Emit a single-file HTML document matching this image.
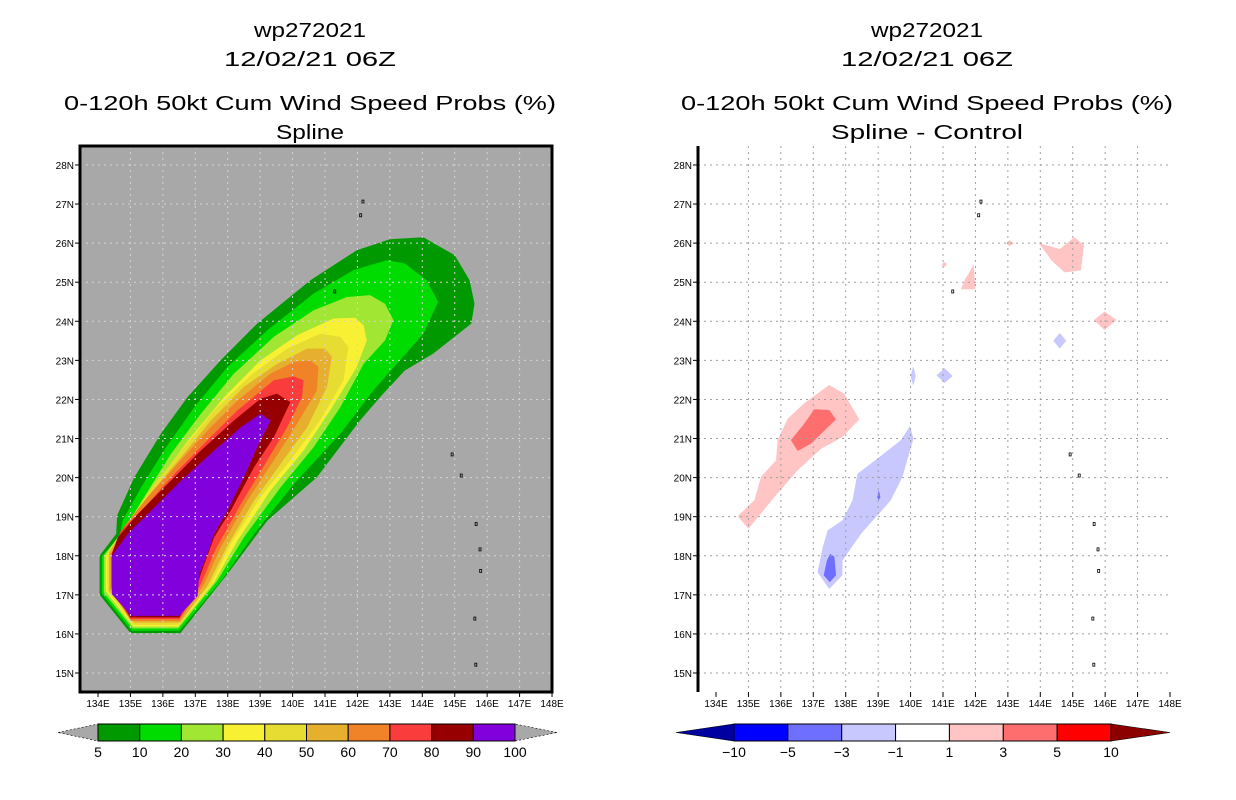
<!DOCTYPE html>
<html><head><meta charset="utf-8"><style>
html,body{margin:0;padding:0;background:#fff;}
svg{display:block;font-family:"Liberation Sans",sans-serif;}
</style></head><body>
<svg id="c" width="1236" height="800" viewBox="0 0 1236 800">
<g id="titles" fill="#000" font-size="20" text-anchor="middle">
<text x="310" y="37" textLength="112" lengthAdjust="spacingAndGlyphs">wp272021</text>
<text x="310" y="66" textLength="172" lengthAdjust="spacingAndGlyphs">12/02/21 06Z</text>
<text x="310" y="110" textLength="492" lengthAdjust="spacingAndGlyphs">0-120h 50kt Cum Wind Speed Probs (%)</text>
<text x="310" y="139" textLength="68" lengthAdjust="spacingAndGlyphs">Spline</text>
<text x="927" y="37" textLength="112" lengthAdjust="spacingAndGlyphs">wp272021</text>
<text x="927" y="66" textLength="172" lengthAdjust="spacingAndGlyphs">12/02/21 06Z</text>
<text x="927" y="110" textLength="492" lengthAdjust="spacingAndGlyphs">0-120h 50kt Cum Wind Speed Probs (%)</text>
<text x="927" y="139" textLength="192" lengthAdjust="spacingAndGlyphs">Spline - Control</text>
</g>
<g id="left"></g>
<g id="right"></g>
</svg>
<script>
const lonTicks=[134,135,136,137,138,139,140,141,142,143,144,145,146,147,148];
const latTicks=[15,16,17,18,19,20,21,22,23,24,25,26,27,28];
const probLevels=[5,10,20,30,40,50,60,70,80,90,100];
const probColors=["#009a00","#00dc00","#a0e632","#f8f032","#e6dc32","#e6af2d","#f08228","#fa3c3c","#960000","#8200dc"];
const p5=[[134.05,18],[134.05,17],[135,16.02],[136.54,16.02],[137.99,17.53],[139.22,18.9],[140.75,20.01],[142.08,21.46],[142.7,22.06],[143.46,22.74],[144.33,23.17],[145.51,23.94],[145.61,24.45],[145.46,25.05],[145,25.69],[144.03,26.15],[143,26.1],[141.98,25.82],[140.55,25.05],[138.91,23.94],[137.78,23.0],[136.76,22.06],[135.94,21.12],[135.12,20.01],[134.59,19.03],[134.56,18.56]];
const p10=[[134.12,18],[134.12,17.03],[135.04,16.08],[136.51,16.08],[137.84,17.4],[138.81,18.56],[140.04,19.84],[141.47,21.12],[142.49,22.23],[143.31,23.0],[144.03,23.68],[144.49,24.5],[144.13,25.05],[143.46,25.48],[142.9,25.56],[141.88,25.31],[140.65,24.71],[139.22,23.77],[137.99,22.83],[136.97,21.8],[136.1,20.78],[135.33,19.75],[134.76,18.9],[134.66,18.47]];
const p20=[[134.18,18],[134.18,17.06],[135.07,16.14],[136.48,16.14],[137.68,17.36],[138.5,18.47],[139.63,19.75],[140.65,20.78],[141.47,21.8],[142.19,22.91],[142.85,23.51],[143.11,24.03],[142.85,24.45],[142.39,24.67],[141.67,24.62],[140.65,24.28],[139.42,23.6],[138.19,22.66],[137.17,21.63],[136.25,20.61],[135.48,19.58],[134.92,18.81]];
const p30=[[134.24,18],[134.24,17.09],[135.09,16.19],[136.47,16.19],[137.58,17.32],[138.3,18.38],[139.32,19.67],[140.34,20.69],[141.16,21.72],[141.98,22.83],[142.29,23.51],[142.19,23.9],[141.93,24.09],[141.26,24.07],[140.14,23.64],[139.01,23.0],[137.89,22.06],[136.86,21.03],[135.94,20.01],[135.23,19.15],[134.51,18.34]];
const p40=[[134.29,18],[134.29,17.1],[135.1,16.23],[136.46,16.23],[137.48,17.27],[138.09,18.3],[139.01,19.5],[139.93,20.44],[140.85,21.46],[141.57,22.49],[141.72,23.34],[141.47,23.6],[140.85,23.68],[139.83,23.3],[138.71,22.62],[137.58,21.72],[136.66,20.78],[135.74,19.84],[135.02,18.98],[134.29,18.04]];
const p50=[[134.34,18],[134.34,17.12],[135.12,16.29],[136.54,16.29],[137.37,17.23],[137.99,18.26],[138.81,19.41],[139.63,20.35],[140.45,21.29],[141.06,22.32],[141.21,23.09],[141.0,23.3],[140.45,23.3],[139.52,22.91],[138.5,22.32],[137.48,21.46],[136.56,20.52],[135.63,19.62],[134.92,18.85],[134.34,18.09]];
const p60=[[134.39,18.04],[134.39,17.15],[135.02,16.33],[136.51,16.33],[137.27,17.27],[137.78,18.21],[138.6,19.41],[139.42,20.44],[140.14,21.38],[140.75,22.23],[140.8,22.83],[140.55,23.0],[140.04,22.96],[139.32,22.66],[138.3,21.97],[137.37,21.2],[136.45,20.35],[135.53,19.5],[134.82,18.77]];
const p70=[[134.41,18.04],[134.41,17.19],[135,16.38],[136.51,16.38],[137.17,17.27],[137.63,18.17],[138.4,19.32],[139.22,20.44],[139.83,21.29],[140.29,22.06],[140.34,22.49],[140.04,22.59],[139.42,22.49],[138.3,21.72],[137.37,20.95],[136.35,20.09],[135.43,19.24],[134.71,18.64]];
const p80=[[134.43,18.04],[134.43,17.21],[135,16.42],[136.51,16.42],[137.09,17.32],[137.17,17.53],[137.58,18.47],[138.09,19.15],[138.81,20.26],[139.42,21.03],[139.93,21.93],[139.52,22.15],[139.01,22.02],[138.19,21.46],[137.17,20.69],[136.15,19.84],[135.23,19.07],[134.61,18.47]];
const p90=[[134.43,18],[134.43,17.02],[135.02,16.46],[136.5,16.46],[137.07,16.97],[137.12,17.53],[137.37,18.04],[137.58,18.56],[137.99,19.15],[138.5,20.01],[138.91,20.78],[139.32,21.46],[139.01,21.63],[138.4,21.29],[137.58,20.69],[136.56,19.92],[135.63,19.15],[134.92,18.56]];
const probPolys=[p5,p10,p20,p30,p40,p50,p60,p70,p80,p90];

const diffLevels=[-10,-5,-3,-1,1,3,5,10];
const diffColors=["#0000a0","#0000ff","#6e6eff","#c8c8ff","#ffffff","#ffc4c4","#ff6e6e","#ff0000","#8c0000"];
const dPink1=[[134.67,19.01],[135,18.69],[135.8,19.5],[136.52,20.19],[137.24,20.74],[137.9,21.04],[138.42,21.49],[137.95,22.15],[137.49,22.37],[136.72,21.9],[136.21,21.51],[135.9,20.96],[135.85,20.44],[135.39,20.02],[135.18,19.42]];
const dRed1=[[136.31,20.96],[136.52,20.68],[136.93,20.87],[137.7,21.49],[137.49,21.73],[137.03,21.75],[136.72,21.38]];
const dBlue1=[[137.13,17.58],[137.49,17.15],[137.9,17.5],[137.9,17.88],[138.47,18.56],[139.39,19.42],[139.75,20.02],[140.09,21.0],[139.98,21.32],[139.7,20.96],[138.98,20.49],[138.36,20.1],[138.21,19.42],[137.9,18.91],[137.44,18.65],[137.29,18.22]];
const dBlue2=[[137.32,17.5],[137.51,17.32],[137.7,17.5],[137.65,17.97],[137.52,18.05],[137.42,17.88]];
const dBlue3=[[138.97,19.5],[139.02,19.42],[139.07,19.5],[139.02,19.68]];
const dBlue4=[[140.0,22.6],[140.08,22.35],[140.16,22.6],[140.08,22.85]];
const dBlue5=[[140.8,22.62],[141.05,22.42],[141.3,22.6],[141.05,22.8]];
const dBlue6=[[144.4,23.5],[144.6,23.3],[144.8,23.5],[144.6,23.7]];
const dPink2=[[142.95,26.0],[143.05,25.92],[143.2,26.0],[143.05,26.07]];
const dPink3=[[140.95,25.45],[141.05,25.38],[141.12,25.47],[141.03,25.52]];
const dPink4=[[141.55,24.82],[142.0,24.82],[141.95,25.45],[141.7,25.1]];
const dPink5=[[143.95,26.0],[144.6,25.85],[145.05,26.15],[145.35,25.95],[145.25,25.3],[144.75,25.25],[144.35,25.55]];
const dPink6=[[145.65,24.03],[145.98,23.78],[146.35,24.03],[145.98,24.25]];
const diffPolys=[[dPink1,5],[dRed1,6],[dBlue1,3],[dBlue2,2],[dBlue3,2],[dBlue4,3],[dBlue5,3],[dBlue6,3],[dPink2,5],[dPink3,5],[dPink4,5],[dPink5,5],[dPink6,5]];
const islands=[[142.17,27.05],[142.1,26.7],[141.3,24.75],[144.92,20.58],[145.2,20.04],[145.66,18.8],[145.78,18.15],[145.8,17.6],[145.62,16.38],[145.65,15.2]];

const NS="http://www.w3.org/2000/svg";
const X0=98,PX=32.43,Y0=673,PY=39.08;
function yS(lat){return Y0-(lat-15)*PY;}
function mk(tag,attrs,parent){const e=document.createElementNS(NS,tag);for(const k in attrs)e.setAttribute(k,attrs[k]);parent.appendChild(e);return e;}

function panel(g,off,bg){
  const xS=lon=>off+X0+(lon-134)*PX;
  const bgR=mk('rect',{x:off+80,y:146,width:472,height:546,fill:bg},g);
  
  
  return xS;
}
function poly(g,pts,xS,fill,name){
  const p=mk('polygon',{points:pts.map(q=>xS(q[0]).toFixed(1)+','+yS(q[1]).toFixed(1)).join(' '),fill:fill},g);
  
  
}
function grid(g,off,xS,col){
  lonTicks.forEach(l=>{if(l>134&&l<148){const ln=mk('line',{x1:xS(l),x2:xS(l),y1:146,y2:692,stroke:col,'stroke-width':1,'stroke-dasharray':'2,4'},g);
    
    }});
  latTicks.forEach(l=>{const ln=mk('line',{x1:off+80,x2:off+552,y1:yS(l),y2:yS(l),stroke:col,'stroke-width':1,'stroke-dasharray':'2,4'},g);
    
    });
}
function axes(g,off,xS,full){
  latTicks.forEach(l=>{
    mk('line',{x1:off+75,x2:off+80,y1:yS(l),y2:yS(l),stroke:'#000'},g);
    const t=mk('text',{x:off+74,y:yS(l)+4,'font-size':10,'text-anchor':'end'},g);t.textContent=l+'N';
    
    
  });
  lonTicks.forEach(l=>{
    mk('line',{x1:xS(l),x2:xS(l),y1:692,y2:697,stroke:'#000'},g);
    const t=mk('text',{x:xS(l),y:707,'font-size':10,'text-anchor':'middle'},g);t.textContent=l+'E';
    
    
  });
  if(full){const f=mk('rect',{x:off+80,y:146,width:472,height:546,fill:'none',stroke:'#000','stroke-width':3},g);
    
    }
  else{mk('line',{x1:off+80,x2:off+80,y1:146,y2:692,stroke:'#000','stroke-width':3},g);}
  islands.forEach((p,i)=>{const c=mk('rect',{x:xS(p[0])-1,y:yS(p[1])-2,width:2,height:3,fill:'none',stroke:'#000','stroke-width':0.8},g);
    
    });
}
function colorbar(g,x0,x1,nSeg,colors,labels,lowCol,highCol,tipL,tipR,name){
  const w=(x1-x0)/nSeg,y0=724,y1=741,ym=732.5;
  const a=mk('polygon',{points:`${tipL},${ym} ${x0},${y0} ${x0},${y1}`,fill:lowCol,stroke:'#000','stroke-width':0.6,'stroke-dasharray':lowCol=='#a8a8a8'?'2,2':'none'},g);
  
  
  const b=mk('polygon',{points:`${tipR},${ym} ${x1},${y0} ${x1},${y1}`,fill:highCol,stroke:'#000','stroke-width':0.6,'stroke-dasharray':highCol=='#a8a8a8'?'2,2':'none'},g);
  
  
  for(let i=0;i<nSeg;i++){const r=mk('rect',{x:x0+i*w,y:y0,width:w,height:y1-y0,fill:colors[i],stroke:'#000','stroke-width':1},g);
    
    }
  labels.forEach((l,i)=>{const t=mk('text',{x:x0+i*w,y:757,'font-size':14,'text-anchor':'middle'},g);t.textContent=String(l).replace('-','\u2212');
    
    });
}

const L=document.getElementById('left');
const xL=panel(L,0,'#a8a8a8');
probPolys.forEach((p,i)=>poly(L,p,xL,probColors[i],'prob-contour-'+probLevels[i]));
grid(L,0,xL,'#d4d4d4');
axes(L,0,xL,true);
colorbar(L,98,515,10,probColors,probLevels,'#a8a8a8','#a8a8a8',58,557,'prob-colorbar');

const R=document.getElementById('right');
const xR=panel(R,618,'#ffffff');
diffPolys.forEach(d=>poly(R,d[0],xR,diffColors[d[1]],'diff-patch'));
grid(R,618,xR,'#a0a0a0');
axes(R,618,xR,false);
colorbar(R,734,1111,7,diffColors.slice(1,8),diffLevels,diffColors[0],diffColors[8],676,1170,'diff-colorbar');
</script>
</body></html>
